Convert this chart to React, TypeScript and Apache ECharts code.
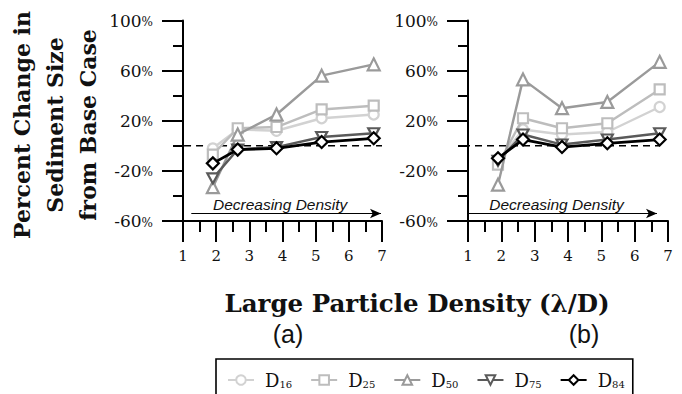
import React, { useEffect, useRef } from 'react';
import * as echarts from 'echarts';

// x positions of the five cases (lambda/D)
const xValues = [1.9, 2.65, 3.82, 5.18, 6.75];
const xTicks = [1, 2, 3, 4, 5, 6, 7];
const yLabelTicks = [-60, -20, 20, 60, 100];

const seriesNames = ['D16', 'D25', 'D50', 'D75', 'D84'];
const seriesSubs = ['16', '25', '50', '75', '84'];
const seriesColors = ['#d2d2d2', '#bdbdbd', '#9a9a9a', '#5a5a5a', '#000000'];
const seriesSymbols = ['circle', 'rect', 'triangle', 'path://M0,0 L10,0 L5,9 Z', 'diamond'];

// panel (a)
const aD16 = [-2, 13, 12, 22, 25];
const aD25 = [-7, 14, 15, 29, 32];
const aD50 = [-33, 9, 25, 56, 65];
const aD75 = [-26, -3, -1, 7, 10];
const aD84 = [-14, -3, -2, 3, 6];

// panel (b)
const bD16 = [-13, 13, 9, 11, 31];
const bD25 = [-15, 22, 14, 18, 45];
const bD50 = [-31, 53, 30, 35, 67];
const bD75 = [-12, 9, 1, 5, 10];
const bD84 = [-10, 5, -1, 2, 5];

const panelA = [aD16, aD25, aD50, aD75, aD84];
const panelB = [bD16, bD25, bD50, bD75, bD84];

const yTitleLines = ['Percent Change in', 'Sediment Size', 'from Base Case'];

const serif = 'DejaVu Serif';
const sans = 'Liberation Sans';

export default function App() {
  const ref = useRef<HTMLDivElement>(null);
  useEffect(() => {
    if (!ref.current) return;
    const chart = echarts.init(ref.current, undefined, { renderer: 'svg' });

    const grids = [
      { left: 183, top: 20.5, width: 199, height: 200.5 },
      { left: 468, top: 20.5, width: 200, height: 200.5 },
    ];

    const xAxes = grids.map((_, i) => ({
      type: 'value',
      gridIndex: i,
      position: 'bottom',
      min: 1,
      max: 7,
      interval: 1,
      axisLine: { show: true, onZero: false, lineStyle: { color: '#000', width: 2 } },
      axisTick: { show: true, inside: false, length: 21, lineStyle: { color: '#000', width: 2 } },
      minorTick: { show: true, splitNumber: 2, length: 11, lineStyle: { color: '#000', width: 2 } },
      splitLine: { show: false },
      axisLabel: {
        margin: 27,
        fontFamily: serif,
        fontSize: 15,
        color: '#111',
        formatter: (v: number) => (xTicks.includes(v) ? String(v) : ''),
      },
    }));

    const yAxes: any[] = [];
    grids.forEach((_, i) => {
      yAxes.push({
        type: 'value',
        gridIndex: i,
        position: 'left',
        min: -60,
        max: 100,
        interval: 20,
        axisLine: { show: true, onZero: false, lineStyle: { color: '#000', width: 2 } },
        axisTick: { show: true, inside: false, length: 10, lineStyle: { color: '#000', width: 2 } },
        axisLabel: { show: false },
        splitLine: { show: false },
      });
      yAxes.push({
        type: 'value',
        gridIndex: i,
        position: 'left',
        offset: 0,
        min: -60,
        max: 100,
        interval: 20,
        axisLine: { show: false, onZero: false },
        axisTick: { show: true, inside: false, length: 21, customValues: yLabelTicks, lineStyle: { color: '#000', width: 2 } },
        axisLabel: {
          show: true,
          margin: 30,
          customValues: yLabelTicks,
          formatter: (v: number) => `{n|${v}}{p|%}`,
          rich: {
            n: { fontFamily: serif, fontSize: 17, color: '#111' },
            p: { fontFamily: serif, fontSize: 12, color: '#111', padding: [3, 0, 0, 0] },
          },
        },
        splitLine: { show: false },
      });
    });

    const series: any[] = [];
    const panels = [panelA, panelB];
    const dashExtent = [
      [0.67, 7],
      [0.13, 6.75],
    ];
    const arrowExtent = [
      [1.25, 6.97],
      [1.0, 6.67],
    ];
    panels.forEach((panel, p) => {
      series.push({
        type: 'line',
        name: 'zero' + p,
        xAxisIndex: p,
        yAxisIndex: p * 2,
        clip: false,
        silent: true,
        symbol: 'none',
        data: [
          [dashExtent[p][0], 0],
          [dashExtent[p][1], 0],
        ],
        lineStyle: { color: '#000', width: 1.6, type: [7, 5] },
        z: 1,
        markLine: {
          silent: true,
          symbol: ['none', 'arrow'],
          symbolSize: [7, 11],
          lineStyle: { color: '#000', width: 1.2, type: 'solid' },
          label: {
            show: true,
            position: 'insideMiddleTop',
            distance: 1,
            padding: [0, 12, 0, 0],
            formatter: 'Decreasing Density',
            fontFamily: sans,
            fontStyle: 'italic',
            fontSize: 15.5,
            color: '#111',
          },
          data: [
            [
              { coord: [arrowExtent[p][0], -54] },
              { coord: [arrowExtent[p][1], -54] },
            ],
          ],
        },
      });
      panel.forEach((vals, k) => {
        series.push({
          type: 'line',
          name: seriesNames[k],
          xAxisIndex: p,
          yAxisIndex: p * 2,
          data: xValues.map((x, j) => [x, vals[j]]),
          symbol: seriesSymbols[k],
          symbolSize: k === 3 ? [11, 10] : k === 2 ? 12 : k === 4 ? 12 : 10,
          showAllSymbol: true,
          lineStyle: { color: seriesColors[k], width: k === 4 ? 2.8 : 2.4 },
          itemStyle: { color: '#ffffff', borderColor: seriesColors[k], borderWidth: 2.2 },
          z: 3 + k,
        });
      });
    });

    const legendRich: any = {
      d: { fontFamily: serif, fontSize: 18, color: '#111', padding: [0, 0, 0, 6] },
      s: { fontFamily: serif, fontSize: 10, color: '#111', padding: [9, 0, 0, 0] },
    };

    const titleX = [22, 55, 88];
    const titleGraphics = yTitleLines.map((t, i) => ({
      type: 'text',
      x: titleX[i],
      y: 125,
      rotation: Math.PI / 2,
      style: {
        text: t,
        fontFamily: serif,
        fontWeight: 'bold',
        fontSize: 22,
        fill: '#111',
        align: 'center',
        verticalAlign: 'middle',
      },
    }));

    chart.setOption({
      animation: false,
      grid: grids,
      xAxis: xAxes,
      yAxis: yAxes,
      series,
      legend: {
        data: seriesNames,
        left: 216,
        top: 359,
        orient: 'horizontal',
        borderColor: '#000',
        borderWidth: 1.6,
        padding: [12, 8, 30, 11],
        itemWidth: 26,
        itemHeight: 12,
        itemGap: 18,
        selectedMode: false,
        formatter: (name: string) => `{d|D}{s|${seriesSubs[seriesNames.indexOf(name)]}}`,
        textStyle: { rich: legendRich },
      },
      graphic: [
        ...titleGraphics,
        {
          type: 'text',
          x: 417,
          y: 303,
          style: {
            text: 'Large Particle Density (λ/D)',
            fontFamily: serif,
            fontWeight: 'bold',
            fontSize: 24.5,
            fill: '#111',
            align: 'center',
            verticalAlign: 'middle',
          },
        },
        {
          type: 'text',
          x: 288,
          y: 334,
          style: { text: '(a)', fontFamily: sans, fontSize: 25, fill: '#111', align: 'center', verticalAlign: 'middle' },
        },
        {
          type: 'text',
          x: 584,
          y: 334,
          style: { text: '(b)', fontFamily: sans, fontSize: 25, fill: '#111', align: 'center', verticalAlign: 'middle' },
        },
      ],
    });
    return () => chart.dispose();
  }, []);
  return <div ref={ref} style={{ width: 682, height: 394, position: 'absolute', left: 0, top: 0 }} />;
}
